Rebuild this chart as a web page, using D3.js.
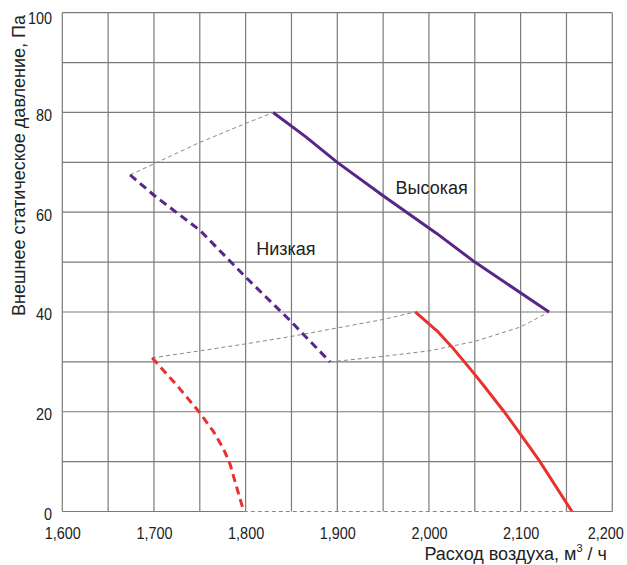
<!DOCTYPE html>
<html>
<head>
<meta charset="utf-8">
<script src="https://cdn.jsdelivr.net/npm/d3@7"></script>
<style>
  html, body { margin: 0; padding: 0; background: #fff; }
  svg { display: block; }
  .tick-label { font-family: 'Liberation Sans', Arial, sans-serif; font-size: 17px; fill: #222; }
  .title { font-family: 'Liberation Sans', Arial, sans-serif; font-size: 18px; fill: #222; }
</style>
</head>
<body>
<svg id="chart" width="627" height="565"></svg>
<script>
// ---- Data ----
const xTicks = [1600, 1700, 1800, 1900, 2000, 2100, 2200];
const xTickLabels = ["1,600", "1,700", "1,800", "1,900", "2,000", "2,100", "2,200"];
const yTicks = [0, 20, 40, 60, 80, 100];
const yTickLabels = ["0", "20", "40", "60", "80", "100"];

// Purple solid ("Высокая")
const highPurple = [[1830, 80], [1865, 75.2], [1900, 70], [1950, 63.3], [2008, 55.8], [2050, 50], [2131, 40]];
// Purple dashed ("Низкая")
const lowPurple = [[1674, 67.5], [1700, 63.4], [1750, 56.4], [1800, 47], [1850, 38], [1892, 30]];
// Red solid
const highRed = [[1985, 40], [2010, 36], [2025, 33], [2045, 28.6], [2059, 25.4], [2082, 20], [2099, 15.7], [2120, 10.3], [2156, 0]];
// Red dashed
const lowRed = [[1698, 30.8], [1725, 25.3], [1750, 19.8], [1765, 16], [1776, 12.5], [1783, 9.5], [1790, 5], [1798, 0]];

// Gray dashed connector curves
const connTop = [[1674, 67.5], [1700, 69.7], [1750, 74], [1800, 77.8], [1830, 80]];
const connMidA = [[1698, 30.8], [1750, 32.2], [1800, 33.6], [1850, 35.1], [1900, 36.8], [1950, 38.5], [1985, 40]];
const connMidB = [[1892, 30], [1950, 31.1], [2000, 32.2], [2050, 34.1], [2100, 37], [2131, 40]];
const connBottom = [[1798, 0], [2156, 0]];

const labels = [
  { text: "Высокая", x: 2003, y: 63.6 },
  { text: "Низкая", x: 1844, y: 51.4 }
];

// ---- Layout ----
const svg = d3.select("#chart");
const x = d3.scaleLinear().domain([1600, 2200]).range([62.3, 612.3]);
const y = d3.scaleLinear().domain([0, 100]).range([511.5, 12.7]);

const gridColor = "#7a7a7a";
const purple = "#5a2589";
const red = "#e8322e";

// Grid: vertical every 50, horizontal every 10
const g = svg.append("g");
const vGrid = d3.range(1600, 2201, 50);
const hGrid = d3.range(10, 101, 10);
g.selectAll("line.v").data(vGrid).join("line")
  .attr("x1", d => x(d)).attr("x2", d => x(d))
  .attr("y1", y(0)).attr("y2", y(100))
  .attr("stroke", gridColor).attr("stroke-width", 1.2);
g.selectAll("line.h").data(hGrid).join("line")
  .attr("x1", x(1600)).attr("x2", x(2200))
  .attr("y1", d => y(d)).attr("y2", d => y(d))
  .attr("stroke", gridColor).attr("stroke-width", 1.2);
// bottom line: solid except between connBottom ends
g.append("line").attr("x1", x(1600)).attr("x2", x(connBottom[0][0]))
  .attr("y1", y(0)).attr("y2", y(0)).attr("stroke", gridColor).attr("stroke-width", 1.2);
g.append("line").attr("x1", x(connBottom[1][0])).attr("x2", x(2200))
  .attr("y1", y(0)).attr("y2", y(0)).attr("stroke", gridColor).attr("stroke-width", 1.2);

// Axes via d3 axis generators (labels only)
const xAxis = d3.axisBottom(x).tickValues(xTicks).tickFormat((d, i) => xTickLabels[i]).tickSize(0).tickPadding(0);
const xg = svg.append("g").attr("transform", `translate(0, ${y(0)})`).call(xAxis);
xg.select(".domain").remove();
xg.selectAll("text").attr("class", "tick-label").attr("dy", null).attr("y", 0)
  .attr("font-size", null).attr("font-family", null).attr("fill", null)
  .attr("transform", d => `translate(${d === 2200 ? -7 : 0}, 27) scale(0.85, 1)`);

const yAxis = d3.axisLeft(y).tickValues(yTicks).tickFormat((d, i) => yTickLabels[i]).tickSize(0).tickPadding(0);
const yg = svg.append("g").attr("transform", `translate(52, 0)`).call(yAxis);
yg.select(".domain").remove();
yg.selectAll("text").attr("class", "tick-label").attr("x", 0).attr("dy", null)
  .attr("font-size", null).attr("font-family", null).attr("fill", null)
  .attr("transform", d => `translate(0, ${d === 100 ? 11 : 8}) scale(0.85, 1)`);

// Lines
const line = d3.line().x(d => x(d[0])).y(d => y(d[1]));
const plot = svg.append("g");

function draw(data, color, width, dash) {
  const p = plot.append("path").datum(data).attr("d", line)
    .attr("fill", "none").attr("stroke", color).attr("stroke-width", width)
    .attr("stroke-linejoin", "round");
  if (dash) p.attr("stroke-dasharray", dash);
  return p;
}
draw(connTop, "#888", 1, "4,3");
draw(connMidA, "#888", 1, "4,3");
draw(connMidB, "#888", 1, "4,3");
draw(connBottom, "#888", 1.2, "4,3");
draw(highPurple, purple, 3);
draw(lowPurple, purple, 3, "8,5");
draw(highRed, red, 3);
draw(lowRed, red, 3, "8,5");

// Curve labels
svg.selectAll("text.lbl").data(labels).join("text")
  .attr("class", "title")
  .attr("x", d => x(d.x)).attr("y", d => y(d.y))
  .attr("text-anchor", "middle")
  .text(d => d.text);

// Axis titles
const xt = svg.append("text").attr("class", "title")
  .attr("x", 607).attr("y", 560).attr("text-anchor", "end");
xt.append("tspan").text("Расход воздуха, м");
xt.append("tspan").attr("font-size", 11).attr("dy", -8).text("3");
xt.append("tspan").attr("dy", 8).text(" / ч");

svg.append("text").attr("class", "title")
  .attr("transform", "translate(25, 15) rotate(-90)")
  .attr("text-anchor", "end")
  .text("Внешнее статическое давление, Па");
</script>
</body>
</html>
